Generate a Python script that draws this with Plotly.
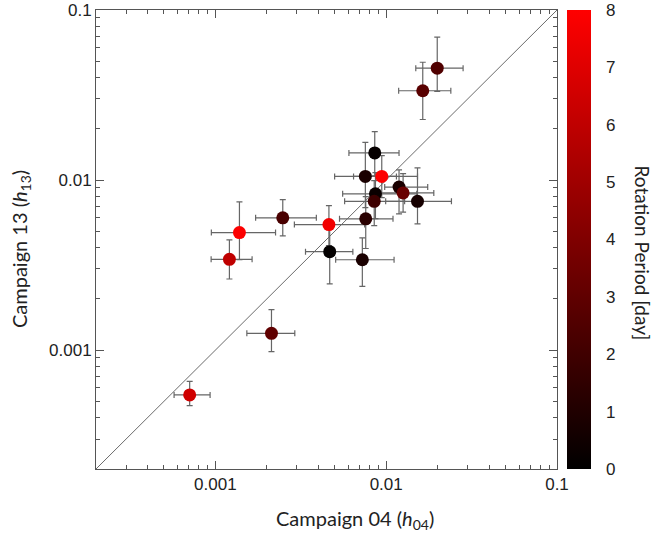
import plotly.graph_objects as go

# ---- data ----
h04 = [0.0199, 0.01637, 0.00213, 0.000707, 0.001383, 0.001208, 0.00248, 0.00857, 0.00755, 0.00942,
       0.01189, 0.01256, 0.00865, 0.00851, 0.01525, 0.00759, 0.00462, 0.00467, 0.00725]
h04_lo = [0.0149, 0.01183, 0.001528, 0.000573, 0.000947, 0.000944, 0.00172, 0.00605, 0.00499, 0.00644,
          0.0098, 0.00916, 0.00556, 0.00571, 0.00993, 0.00533, 0.0029, 0.00337, 0.00506]
h04_hi = [0.0282, 0.0239, 0.002917, 0.000931, 0.00225, 0.00164, 0.0039, 0.01189, 0.01148, 0.01525,
          0.0175, 0.019, 0.0151, 0.01282, 0.0241, 0.01096, 0.00748, 0.00638, 0.01112]
h13 = [0.0455, 0.0335, 0.001256, 0.000545, 0.00491, 0.00342, 0.0060, 0.01445, 0.01051, 0.01051,
       0.0091, 0.0084, 0.0083, 0.0075, 0.0075, 0.00592, 0.00547, 0.00379, 0.0034]
h13_lo = [0.0332, 0.0227, 0.00098, 0.000472, 0.0034, 0.00262, 0.0047, 0.0106, 0.00689, 0.00789,
          0.00632, 0.00647, 0.00594, 0.0054, 0.00552, 0.00396, 0.00412, 0.00245, 0.00237]
h13_hi = [0.0692, 0.0493, 0.00173, 0.000655, 0.00745, 0.00445, 0.00767, 0.01928, 0.01667, 0.01393,
          0.01148, 0.0109, 0.01107, 0.00993, 0.0118, 0.008, 0.00708, 0.00519, 0.00457]
period = [2.5, 2.8, 3.0, 6.5, 7.9, 6.0, 2.3, 0.2, 0.8, 7.9,
          0.8, 3.3, 0.3, 1.9, 0.7, 1.3, 7.6, 0.1, 0.8]

axis_range = [0.0002, 0.1]
major_ticks = [0.001, 0.01, 0.1]
major_labels = ["0.001", "0.01", "0.1"]
minor_ticks = [m * d for d in [0.0001, 0.001, 0.01] for m in range(2, 10)]

ex_plus = [hi - v for hi, v in zip(h04_hi, h04)]
ex_minus = [v - lo for lo, v in zip(h04_lo, h04)]
ey_plus = [hi - v for hi, v in zip(h13_hi, h13)]
ey_minus = [v - lo for lo, v in zip(h13_lo, h13)]

fig = go.Figure()

fig.add_trace(go.Scatter(
    x=axis_range, y=axis_range, mode="lines",
    line=dict(color="#6b6b6b", width=1), hoverinfo="skip", showlegend=False))

fig.add_trace(go.Scatter(
    x=h04, y=h13, mode="markers", showlegend=False,
    error_x=dict(type="data", array=ex_plus, arrayminus=ex_minus,
                 color="#666666", thickness=1.2, width=3),
    error_y=dict(type="data", array=ey_plus, arrayminus=ey_minus,
                 color="#666666", thickness=1.2, width=3),
    marker=dict(size=13, color=period, cmin=0, cmax=8,
                colorscale=[[0, "#000000"], [1, "#ff0000"]],
                line=dict(width=0),
                colorbar=dict(x=1.0217, xanchor="left", y=0.5, yanchor="middle",
                              len=1, lenmode="fraction", thickness=24,
                              outlinewidth=0, tickvals=list(range(9)),
                              ticks="outside", ticklen=12, tickcolor="rgba(0,0,0,0)",
                              tickfont=dict(family="Liberation Sans", size=17, color="#222"),
                              ypad=0, xpad=0))))

axis_common = dict(
    type="log", range=[-3.699, -1], showgrid=False, zeroline=False,
    showline=True, linecolor="#555555", linewidth=1, mirror="allticks",
    ticks="inside", ticklen=8, tickcolor="#555555",
    tickvals=major_ticks, ticktext=major_labels,
    tickfont=dict(family="Liberation Sans", size=17, color="#222"),
    minor=dict(tickvals=minor_ticks, ticks="inside", ticklen=4, tickcolor="#555555"),
)

fig.update_xaxes(**axis_common)
fig.update_yaxes(**axis_common)

title_font = dict(family="Lato", size=20, color="#222")
fig.update_layout(
    width=655, height=540,
    margin=dict(l=96, r=98, t=10, b=71, autoexpand=False),
    plot_bgcolor="white", paper_bgcolor="white",
    annotations=[
        dict(text="Campaign 04 (<i>h</i><sub>04</sub>)", xref="paper", yref="paper",
             x=0.562, y=-0.111, showarrow=False, font=title_font,
             xanchor="center", yanchor="middle"),
        dict(text="Campaign 13 (<i>h</i><sub>13</sub>)", xref="paper", yref="paper",
             x=-0.165, y=0.479, showarrow=False, font=title_font, textangle=-90,
             xanchor="center", yanchor="middle"),
        dict(text="Rotation Period [day]", xref="paper", yref="paper",
             x=1.185, y=0.471, showarrow=False, font=dict(family="Lato", size=19, color="#222"),
             textangle=90, xanchor="center", yanchor="middle"),
    ],
)

fig.write_html("out.html", config={"displayModeBar": False},
               post_script="document.body.style.margin='0px';")
